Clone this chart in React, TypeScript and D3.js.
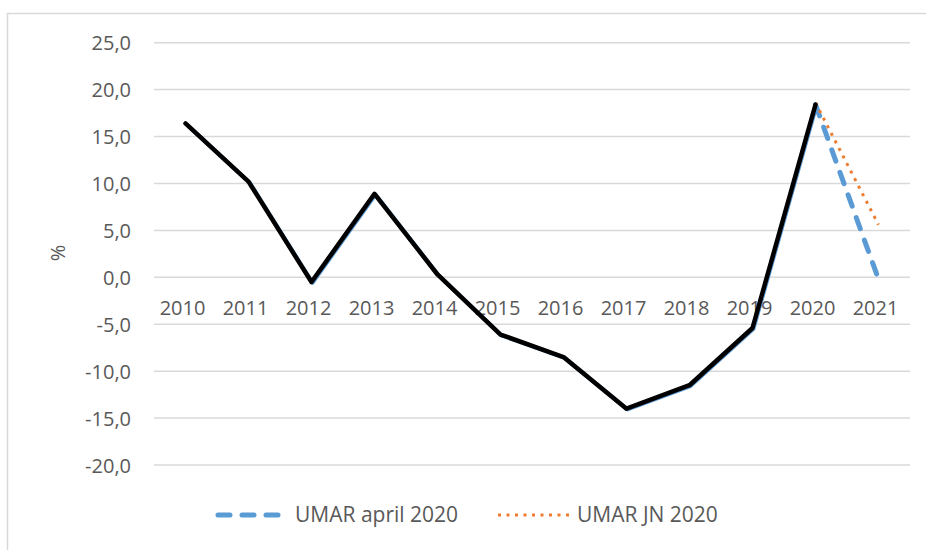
import * as d3 from 'd3';

const years = ['2010', '2011', '2012', '2013', '2014', '2015', '2016', '2017', '2018', '2019', '2020', '2021'];
// actual growth, black line (2010-2020)
const actual = [16.4, 10.2, -0.5, 8.9, 0.3, -6.1, -8.5, -14.0, -11.5, -5.4, 18.4];
// UMAR april 2020 (solid up to 2020, dashed forecast to 2021)
const umarApril = [16.4, 10.2, -0.5, 8.9, 0.3, -6.1, -8.5, -14.0, -11.5, -5.4, 18.4, -0.2];
// UMAR JN 2020 forecast
const umarJnYears = ['2020', '2021'];
const umarJn = [18.6, 5.6];
const yTicks = [25, 20, 15, 10, 5, 0, -5, -10, -15, -20];
const legendLabels = ['UMAR april 2020', 'UMAR JN 2020'];

const W = 926;
const H = 550;
const FONT = '"Open Sans", "Noto Sans", sans-serif';

export default function App() {
  const x = d3.scalePoint<string>().domain(years).range([154, 910]).padding(0.5);
  const y = d3.scaleLinear().domain([-20, 25]).range([465, 42.7]);

  const line = d3.line<[string, number]>()
    .x(d => x(d[0]) as number)
    .y(d => y(d[1]));

  const actualPts = actual.map((v, i) => [years[i], v] as [string, number]);
  const aprilPts = umarApril.map((v, i) => [years[i], v] as [string, number]);
  const aprilSolid = aprilPts.slice(0, 11);
  const aprilDash = aprilPts.slice(10);
  const jnPts = umarJn.map((v, i) => [umarJnYears[i], v] as [string, number]);

  return (
    <svg width={W} height={H} style={{ position: 'absolute', left: 0, top: 0, background: '#fff' }}>
      <rect x={7.5} y={13.5} width={940} height={560} fill="#fff" stroke="#d9d9d9" strokeWidth={1.5} />

      {yTicks.map(t => (
        <g key={t}>
          <line x1={154} x2={910} y1={y(t)} y2={y(t)} stroke="#d9d9d9" strokeWidth={1.5} />
          <text x={131} y={y(t) + 7.5} textAnchor="end" fontFamily={FONT} fontSize={20} fill="#595959">
            {d3.format('.1f')(t).replace('.', ',').replace('−', '-')}
          </text>
        </g>
      ))}

      {years.map(yr => (
        <text key={yr} x={(x(yr) as number) - 3} y={315} textAnchor="middle" fontFamily={FONT} fontSize={20} fill="#595959">
          {yr}
        </text>
      ))}

      <text transform={`translate(65,253) rotate(-90)`} textAnchor="middle" fontFamily={FONT} fontSize={20} fill="#595959">%</text>

      <path d={line(aprilSolid) ?? ''} fill="none" stroke="#5b9bd5" strokeWidth={4} transform="translate(1,0.8)" strokeLinejoin="round" />
      <path d={line(aprilDash) ?? ''} fill="none" stroke="#5b9bd5" strokeWidth={5} strokeDasharray="12 12" strokeLinecap="round" />
      <path d={line(jnPts) ?? ''} fill="none" stroke="#ed7d31" strokeWidth={3} strokeDasharray="3 5.5" />
      <path d={line(actualPts) ?? ''} fill="none" stroke="#000" strokeWidth={4.5} strokeLinejoin="round" strokeLinecap="round" />

      <line x1={218} x2={280} y1={515} y2={515} stroke="#5b9bd5" strokeWidth={5} strokeDasharray="12 12" strokeLinecap="round" />
      <text x={295} y={522} fontFamily={FONT} fontSize={21} fill="#595959">{legendLabels[0]}</text>
      <line x1={498} x2={570} y1={515} y2={515} stroke="#ed7d31" strokeWidth={3} strokeDasharray="3 5.5" />
      <text x={577} y={522} fontFamily={FONT} fontSize={21} fill="#595959">{legendLabels[1]}</text>
    </svg>
  );
}
